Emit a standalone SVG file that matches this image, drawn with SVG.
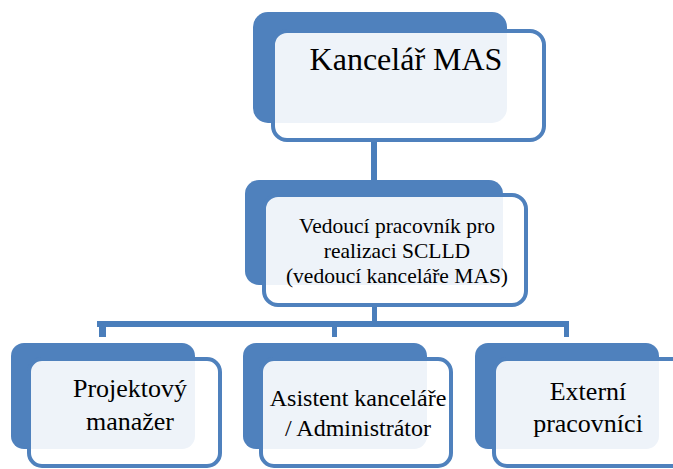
<svg xmlns="http://www.w3.org/2000/svg" width="673" height="469" viewBox="0 0 673 469">
<defs>
<style>
.back{fill:#4F81BD}
.front{fill:#FFFFFF;fill-opacity:0.9;stroke:#4F81BD;stroke-width:4}
.conn{fill:#4A7EBB}
</style>
</defs>
<rect width="673" height="469" fill="#FFFFFF"/>
<g id="connectors">
<rect class="conn" x="371" y="142" width="6" height="38"/>
<rect class="conn" x="372" y="305" width="5" height="17"/>
<rect class="conn" x="97" y="321" width="472" height="6"/>
<rect class="conn" x="99" y="326" width="7" height="11"/>
<rect class="conn" x="332" y="326" width="5" height="11"/>
<rect class="conn" x="564" y="326" width="5" height="11"/>
</g>
<g id="node-kancelar">
<rect class="back" x="253" y="12" width="254" height="111" rx="15"/>
<rect class="front" x="273" y="31" width="271" height="109" rx="14"/>
<text x="406" y="70" text-anchor="middle" font-size="32" font-family="'Liberation Serif'">Kancelář MAS</text>
</g>
<g id="node-vedouci">
<rect class="back" x="245" y="180" width="258" height="105" rx="14"/>
<rect class="front" x="264" y="195" width="262" height="110" rx="14"/>
<text x="397" y="233" text-anchor="middle" font-size="21.5" font-family="'Liberation Serif'">Vedoucí pracovník pro</text>
<text x="397" y="258" text-anchor="middle" font-size="21.5" font-family="'Liberation Serif'">realizaci SCLLD</text>
<text x="397" y="283" text-anchor="middle" font-size="21.5" font-family="'Liberation Serif'">(vedoucí kanceláře MAS)</text>
</g>
<g id="node-projektovy">
<rect class="back" x="11" y="343" width="184" height="106" rx="13"/>
<rect class="front" x="29" y="359" width="191" height="107" rx="13"/>
<text x="130" y="397" text-anchor="middle" font-size="26" font-family="'Liberation Serif'">Projektový</text>
<text x="130" y="430" text-anchor="middle" font-size="26" font-family="'Liberation Serif'">manažer</text>
</g>
<g id="node-asistent">
<rect class="back" x="243" y="343" width="184" height="106" rx="13"/>
<rect class="front" x="261" y="359" width="190" height="107" rx="13"/>
<text x="358" y="406" text-anchor="middle" font-size="24" font-family="'Liberation Serif'">Asistent kanceláře</text>
<text x="358" y="436" text-anchor="middle" font-size="24" font-family="'Liberation Serif'">/ Administrátor</text>
</g>
<g id="node-externi">
<rect class="back" x="475" y="343" width="184" height="106" rx="13"/>
<rect class="front" x="494" y="359" width="191" height="107" rx="13"/>
<text x="588" y="400" text-anchor="middle" font-size="26" font-family="'Liberation Serif'">Externí</text>
<text x="588" y="432" text-anchor="middle" font-size="26" font-family="'Liberation Serif'">pracovníci</text>
</g>
</svg>
